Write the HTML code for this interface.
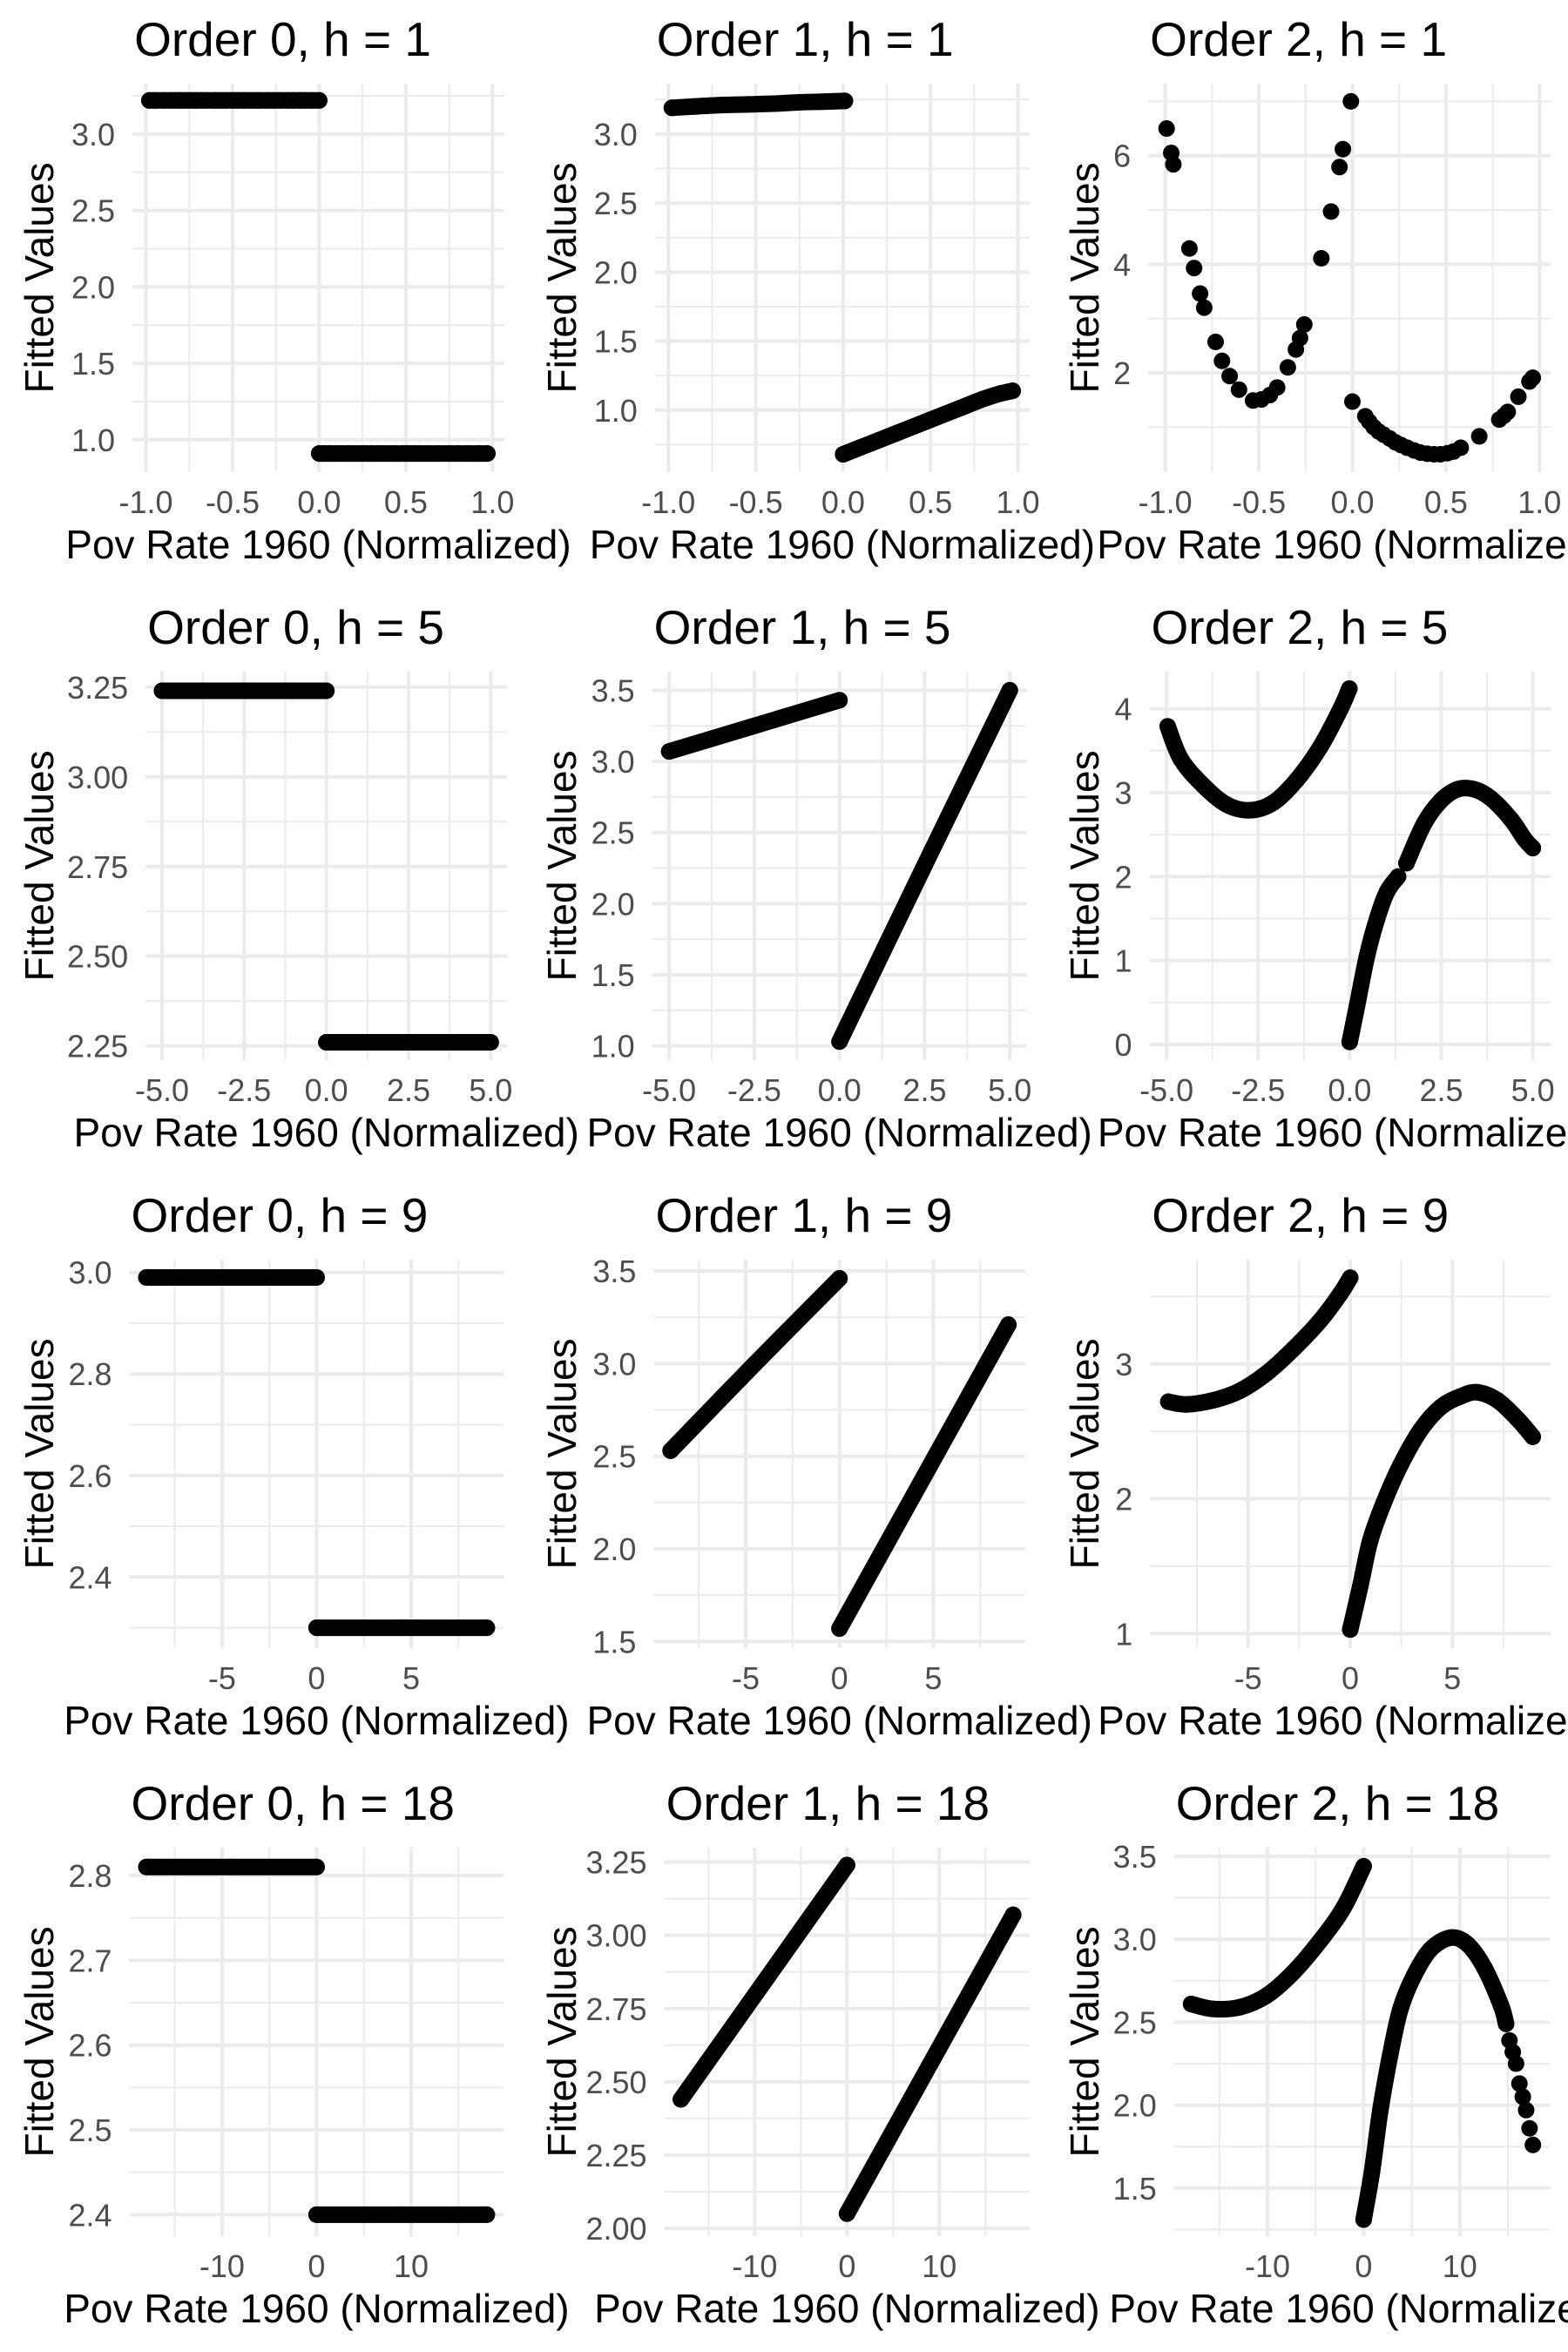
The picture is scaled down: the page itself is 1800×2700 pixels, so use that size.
<!DOCTYPE html>
<html><head><meta charset="utf-8">
<style>
html,body{margin:0;padding:0;background:#fff;}
svg{display:block;}
text{font-family:"Liberation Sans",Arial,sans-serif;}
</style></head>
<body>
<svg id="chart" xmlns="http://www.w3.org/2000/svg" width="1800" height="2700" viewBox="0 0 1800 2700"></svg>
<script>
// ---- data ----
const p00L_x = [-0.98,-0.95,-0.9,-0.86,-0.83,-0.8,-0.77,-0.74,-0.71,-0.68,-0.65,-0.6,-0.57,-0.54,-0.5,-0.47,-0.44,-0.41,-0.38,-0.35,-0.3,-0.26,-0.22,-0.18,-0.15,-0.11,-0.08,-0.04,0.0];
const p00L_y = [3.22,3.22,3.22,3.22,3.22,3.22,3.22,3.22,3.22,3.22,3.22,3.22,3.22,3.22,3.22,3.22,3.22,3.22,3.22,3.22,3.22,3.22,3.22,3.22,3.22,3.22,3.22,3.22,3.22];
const p00R_x = [0.0,0.03,0.06,0.1,0.13,0.17,0.2,0.24,0.27,0.3,0.34,0.37,0.41,0.44,0.48,0.51,0.55,0.58,0.63,0.69,0.75,0.8,0.86,0.92,0.97];
const p00R_y = [0.91,0.91,0.91,0.91,0.91,0.91,0.91,0.91,0.91,0.91,0.91,0.91,0.91,0.91,0.91,0.91,0.91,0.91,0.91,0.91,0.91,0.91,0.91,0.91,0.91];

const p01L_x = [-0.98,-0.85,-0.7,-0.55,-0.4,-0.25,-0.1,0.01];
const p01L_y = [3.19,3.20,3.21,3.215,3.22,3.23,3.235,3.24];
const p01R_x = [0.0,0.1,0.2,0.3,0.4,0.5,0.6,0.7,0.8,0.9,0.97];
const p01R_y = [0.68,0.73,0.78,0.83,0.88,0.93,0.98,1.03,1.08,1.12,1.14];

const p02L_x = [-0.993,-0.968,-0.957,-0.871,-0.846,-0.814,-0.792,-0.731,-0.697,-0.656,-0.606,-0.531,-0.486,-0.441,-0.402,-0.345,-0.302,-0.280,-0.257,-0.166,-0.114,-0.069,-0.051,-0.008];
const p02L_y = [6.50,6.05,5.84,4.29,3.93,3.46,3.20,2.57,2.22,1.94,1.69,1.49,1.51,1.59,1.73,2.10,2.43,2.64,2.89,4.11,4.97,5.79,6.12,7.0];
const p02R_x = [0.0,0.069,0.09,0.114,0.14,0.167,0.2,0.230,0.26,0.293,0.33,0.364,0.4,0.436,0.47,0.508,0.54,0.579,0.678,0.785,0.81,0.830,0.887,0.946,0.964];
const p02R_y = [1.47,1.20,1.10,1.0,0.92,0.86,0.79,0.72,0.67,0.62,0.57,0.53,0.51,0.50,0.50,0.52,0.55,0.62,0.83,1.14,1.21,1.28,1.56,1.84,1.91];

const p10L_x = [-5,-2.5,0]; const p10L_y = [3.24,3.24,3.24];
const p10R_x = [0,2.5,5];   const p10R_y = [2.26,2.26,2.26];
const p11L_x = [-5,-2.5,0]; const p11L_y = [3.07,3.25,3.43];
const p11R_x = [0,2.5,5];   const p11R_y = [1.03,2.27,3.5];
const p12L_x = [-4.97,-4.61,-4.01,-3.37,-2.73,-2.09,-1.45,-0.81,-0.26,-0.01];
const p12L_y = [3.79,3.40,3.09,2.86,2.79,2.88,3.15,3.54,3.99,4.24];
const p12R1_x = [0.0,0.2,0.47,0.75,1.02,1.32];
const p12R1_y = [0.03,0.46,1.05,1.50,1.82,2.0];
const p12R2_x = [1.55,2.03,2.48,2.94,3.40,3.86,4.41,4.77,5.0];
const p12R2_y = [2.16,2.63,2.90,3.04,3.04,2.93,2.68,2.45,2.34];

const p20L_x = [-9,-4.5,0]; const p20L_y = [2.99,2.99,2.99];
const p20R_x = [0,4.5,9];   const p20R_y = [2.30,2.30,2.30];
const p21L_x = [-9,-4.5,0]; const p21L_y = [2.53,3.0,3.46];
const p21R_x = [0,4.5,9];   const p21R_y = [1.57,2.39,3.21];
const p22L_x = [-8.9,-8.03,-6.72,-5.41,-4.10,-2.79,-1.48,-0.49,0];
const p22L_y = [2.72,2.70,2.73,2.80,2.93,3.11,3.32,3.52,3.64];
const p22R_x = [0,0.49,0.98,1.64,2.46,3.44,4.43,5.41,6.23,7.21,8.20,8.93];
const p22R_y = [1.03,1.35,1.69,1.97,2.25,2.51,2.68,2.76,2.79,2.73,2.59,2.46];

const p30L_x = [-18,-9,0]; const p30L_y = [2.81,2.81,2.81];
const p30R_x = [0,9,18];   const p30R_y = [2.40,2.40,2.40];
const p31L_x = [-18,-9,0]; const p31L_y = [2.44,2.84,3.24];
const p31R_x = [0,9,18];   const p31R_y = [2.05,2.56,3.07];
const p32L_x = [-17.94,-15.68,-12.89,-10.10,-7.32,-4.53,-2.09,0];
const p32L_y = [2.61,2.58,2.59,2.66,2.80,2.99,3.19,3.44];
const p32R_x = [0,0.87,1.74,2.79,3.83,5.23,6.97,9.06,10.80,12.54,14.29,14.81];
const p32R_y = [1.31,1.60,1.97,2.31,2.58,2.78,2.94,3.01,2.97,2.83,2.60,2.49];
const p32T_x = [15.16,15.51,15.85,16.2,16.55,16.9,17.25,17.6];
const p32T_y = [2.39,2.32,2.25,2.13,2.05,1.97,1.86,1.76];

// tick values / labels
const xt1 = [-1,-0.5,0,0.5,1]; const xl1 = ["-1.0","-0.5","0.0","0.5","1.0"];
const xt2 = [-5,-2.5,0,2.5,5]; const xl2 = ["-5.0","-2.5","0.0","2.5","5.0"];
const xt3 = [-5,0,5];          const xl3 = ["-5","0","5"];
const xt4 = [-10,0,10];        const xl4 = ["-10","0","10"];
const yt00 = [1,1.5,2,2.5,3];  const yl00 = ["1.0","1.5","2.0","2.5","3.0"];
const yt02 = [2,4,6];          const yl02 = ["2","4","6"];
const yt10 = [2.25,2.5,2.75,3,3.25]; const yl10 = ["2.25","2.50","2.75","3.00","3.25"];
const yt11 = [1,1.5,2,2.5,3,3.5]; const yl11 = ["1.0","1.5","2.0","2.5","3.0","3.5"];
const yt12 = [0,1,2,3,4];      const yl12 = ["0","1","2","3","4"];
const yt20 = [2.4,2.6,2.8,3.0]; const yl20 = ["2.4","2.6","2.8","3.0"];
const yt21 = [1.5,2,2.5,3,3.5]; const yl21 = ["1.5","2.0","2.5","3.0","3.5"];
const yt22 = [1,2,3];          const yl22 = ["1","2","3"];
const yt30 = [2.4,2.5,2.6,2.7,2.8]; const yl30 = ["2.4","2.5","2.6","2.7","2.8"];
const yt31 = [2,2.25,2.5,2.75,3,3.25]; const yl31 = ["2.00","2.25","2.50","2.75","3.00","3.25"];
const yt32 = [1.5,2,2.5,3,3.5]; const yl32 = ["1.5","2.0","2.5","3.0","3.5"];

// ---- layout ----
const NS = "http://www.w3.org/2000/svg";
const svg = document.getElementById('chart');
const R = 9.5;
function mk(tag, attrs, parent){ const e=document.createElementNS(NS,tag); for(const k in attrs) e.setAttribute(k,attrs[k]); (parent||svg).appendChild(e); return e; }
function smoothPath(P){
  if(P.length<3) return 'M'+P.map(p=>p[0]+','+p[1]).join(' L');
  let d='M'+P[0][0]+','+P[0][1];
  for(let i=0;i<P.length-1;i++){
    const p0=P[Math.max(0,i-1)],p1=P[i],p2=P[i+1],p3=P[Math.min(P.length-1,i+2)];
    const c1=[p1[0]+(p2[0]-p0[0])/6,p1[1]+(p2[1]-p0[1])/6];
    const c2=[p2[0]-(p3[0]-p1[0])/6,p2[1]-(p3[1]-p1[1])/6];
    d+=' C'+c1[0]+','+c1[1]+' '+c2[0]+','+c2[1]+' '+p2[0]+','+p2[1];
  }
  return d;
}

const panels = [
 {r:0,c:0,title:"Order 0, h = 1",xa:[-1,167.5,1,565.4],ya:[3,153.9,1,504.8],xt:xt1,xl:xl1,yt:yt00,yl:yl00,ser:[[p00L_x,p00L_y,1],[p00R_x,p00R_y,1]]},
 {r:0,c:1,title:"Order 1, h = 1",xa:[-1,767.3,1,1168.5],ya:[3,153.9,1,470.8],xt:xt1,xl:xl1,yt:yt00,yl:yl00,ser:[[p01L_x,p01L_y,1],[p01R_x,p01R_y,1]]},
 {r:0,c:2,title:"Order 2, h = 1",xa:[-1,1337.7,1,1767.3],ya:[6,178.7,2,428],xt:xt1,xl:xl1,yt:yt02,yl:yl02,ser:[[p02L_x,p02L_y,0],[p02R_x,p02R_y,0]]},
 {r:1,c:0,title:"Order 0, h = 5",xa:[-5,186,5,563.3],ya:[3.25,788.9,2.25,1200.6],xt:xt2,xl:xl2,yt:yt10,yl:yl10,ser:[[p10L_x,p10L_y,1],[p10R_x,p10R_y,1]]},
 {r:1,c:1,title:"Order 1, h = 5",xa:[-5,768.2,5,1159.2],ya:[3.5,792.4,1.0,1200.6],xt:xt2,xl:xl2,yt:yt11,yl:yl11,ser:[[p11L_x,p11L_y,1],[p11R_x,p11R_y,1]]},
 {r:1,c:2,title:"Order 2, h = 5",xa:[-5,1339.2,5,1759.6],ya:[4,813.6,0,1199],xt:xt2,xl:xl2,yt:yt12,yl:yl12,ser:[[p12L_x,p12L_y,1],[p12R1_x,p12R1_y,1],[p12R2_x,p12R2_y,1]]},
 {r:2,c:0,title:"Order 0, h = 9",xa:[-5,254.9,5,472],ya:[3.0,1460.7,2.4,1810.3],xt:xt3,xl:xl3,yt:yt20,yl:yl20,ser:[[p20L_x,p20L_y,1],[p20R_x,p20R_y,1]]},
 {r:2,c:1,title:"Order 1, h = 9",xa:[-5,856,5,1071.4],ya:[3.5,1459,1.5,1884.4],xt:xt3,xl:xl3,yt:yt21,yl:yl21,ser:[[p21L_x,p21L_y,1],[p21R_x,p21R_y,1]]},
 {r:2,c:2,title:"Order 2, h = 9",xa:[0,1550,5,1667.3],ya:[3,1565.8,1,1875.3],xt:xt3,xl:xl3,yt:yt22,yl:yl22,ser:[[p22L_x,p22L_y,1],[p22R_x,p22R_y,1]]},
 {r:3,c:0,title:"Order 0, h = 18",xa:[-10,254.9,10,472],ya:[2.8,2153,2.4,2542.4],xt:xt4,xl:xl4,yt:yt30,yl:yl30,ser:[[p30L_x,p30L_y,1],[p30R_x,p30R_y,1]]},
 {r:3,c:1,title:"Order 1, h = 18",xa:[-10,866.4,10,1078.3],ya:[3.25,2137.6,2.0,2558],xt:xt4,xl:xl4,yt:yt31,yl:yl31,ser:[[p31L_x,p31L_y,1],[p31R_x,p31R_y,1]]},
 {r:3,c:2,title:"Order 2, h = 18",xa:[0,1565.4,10,1675.8],ya:[3.5,2131,1.5,2511.8],xt:xt4,xl:xl4,yt:yt32,yl:yl32,ser:[[p32L_x,p32L_y,1],[p32R_x,p32R_y,1],[p32T_x,p32T_y,0]]}
];

panels.forEach(function(p){
  const sx = (p.xa[3]-p.xa[1])/(p.xa[2]-p.xa[0]);
  const sy = (p.ya[3]-p.ya[1])/(p.ya[2]-p.ya[0]);
  const X = v => p.xa[1] + (v-p.xa[0])*sx;
  const Y = v => p.ya[1] + (v-p.ya[0])*sy;
  let xmin=Infinity,xmax=-Infinity;
  p.ser.forEach(s=>s[0].forEach(v=>{xmin=Math.min(xmin,v);xmax=Math.max(xmax,v);}));
  const w = X(xmax)-X(xmin);
  const left = X(xmin)-0.05*w, right = X(xmax)+0.05*w;
  const top = 95.9 + p.r*675, bottom = 542 + p.r*675;

  const g = mk('g',{});
  
  

  const grid = mk('g',{},g);
  
  
  function minors(t){ const d=t[1]-t[0]; const m=[t[0]-d/2]; for(let i=0;i<t.length;i++) m.push(t[i]+d/2); return m; }
  minors(p.xt).forEach(v=>{ const x=X(v); if(x>left&&x<right) mk('line',{x1:x,x2:x,y1:top,y2:bottom,stroke:'#ebebeb','stroke-width':2},grid); });
  minors(p.yt).forEach(v=>{ const y=Y(v); if(y>top&&y<bottom) mk('line',{x1:left,x2:right,y1:y,y2:y,stroke:'#ebebeb','stroke-width':2},grid); });
  p.xt.forEach(v=>{ const x=X(v); mk('line',{x1:x,x2:x,y1:top,y2:bottom,stroke:'#ebebeb','stroke-width':4},grid); });
  p.yt.forEach(v=>{ const y=Y(v); mk('line',{x1:left,x2:right,y1:y,y2:y,stroke:'#ebebeb','stroke-width':4},grid); });

  p.xt.forEach((v,i)=>{
    const t = mk('text',{x:X(v),y:bottom+47,'text-anchor':'middle','font-size':36,fill:'#4d4d4d'},g);
    t.textContent = p.xl[i];
    
    
  });
  p.yt.forEach((v,i)=>{
    const t = mk('text',{x:left-20,y:Y(v)+13,'text-anchor':'end','font-size':36,fill:'#4d4d4d'},g);
    t.textContent = p.yl[i];
    
    
  });

  const tt = mk('text',{x:left+2,y:64+p.r*675,'font-size':55,fill:'#000'},g);
  tt.textContent = p.title;
  
  
  const xtl = mk('text',{x:(left+right)/2,y:bottom+99,'text-anchor':'middle','font-size':46,fill:'#000'},g);
  xtl.textContent = 'Pov Rate 1960 (Normalized)';
  
  
  const yc = (top+bottom)/2, yx = p.c*600+61;
  const ytl = mk('text',{x:yx,y:yc,'text-anchor':'middle','font-size':46,fill:'#000',transform:'rotate(-90 '+yx+' '+yc+')'},g);
  ytl.textContent = 'Fitted Values';
  
  

  p.ser.forEach(function(s){
    const xs=s[0], ys=s[1];
    const sg = mk('g',{},g);
    
    
    if(s[2]){
      const P = xs.map((v,i)=>[X(v),Y(ys[i])]);
      const pl = mk('path',{d:smoothPath(P),fill:'none',stroke:'#000','stroke-width':2*R,'stroke-linecap':'round','stroke-linejoin':'round'},sg);
      
      
    }
    xs.forEach((v,i)=>{
      const c = mk('circle',{cx:X(v),cy:Y(ys[i]),r:R,fill:'#000'},sg);
      
      
    });
  });
});
</script>
</body></html>
